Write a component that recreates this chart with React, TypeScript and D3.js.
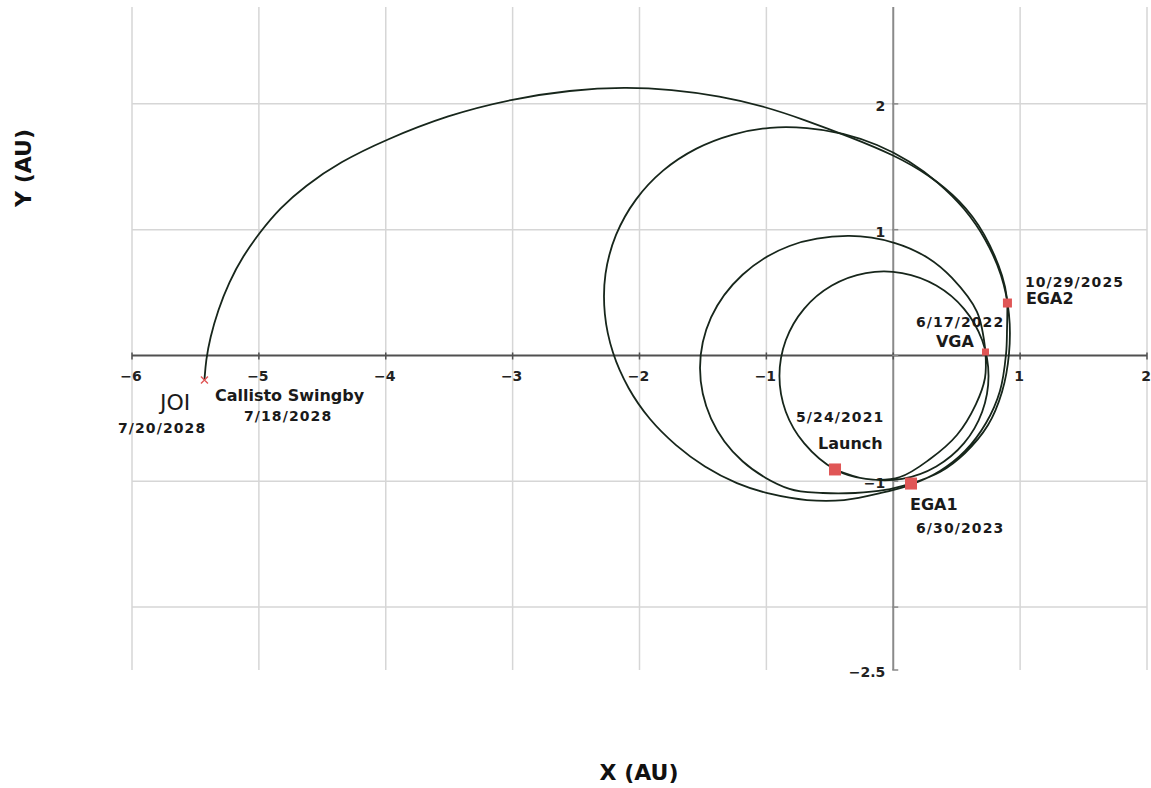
import React, { useRef, useEffect } from "react";
import * as d3 from "d3";

type Pt = [number, number];

// spacecraft path in AU, one array per leg between flybys
const launchToVga: Pt[] = [
  [-0.459, -0.906], [-0.216, -0.981], [0.07, -0.981], [0.339, -0.882], [0.558, -0.697],
  [0.701, -0.447], [0.751, -0.163], [0.701, 0.121], [0.558, 0.371], [0.339, 0.556],
  [0.07, 0.655], [-0.216, 0.655], [-0.484, 0.556], [-0.703, 0.371], [-0.847, 0.121],
  [-0.897, -0.163], [-0.847, -0.447], [-0.703, -0.697], [-0.459, -0.906], [-0.216, -0.981],
  [0.053, -0.966], [0.29, -0.823], [0.502, -0.632], [0.652, -0.386], [0.723, -0.179],
  [0.727, 0.028],
];

const vgaToEga1: Pt[] = [
  [0.727, 0.028], [0.66, 0.346], [0.463, 0.616], [0.274, 0.775], [0.014, 0.894],
  [-0.357, 0.95], [-0.818, 0.87], [-1.188, 0.642], [-1.436, 0.302], [-1.523, -0.1],
  [-1.436, -0.501], [-1.188, -0.841], [-0.818, -1.061], [-0.554, -1.093], [-0.301, -1.093],
  [-0.065, -1.069], [0.14, -1.018],
];

const ega1ToEga2: Pt[] = [
  [0.14, -1.018], [0.368, -0.926], [0.566, -0.775], [0.747, -0.553], [0.857, -0.29],
  [0.912, 0.012], [0.912, 0.33], [0.849, 0.637], [0.726, 0.918], [0.558, 1.164],
  [0.353, 1.371], [0.124, 1.542], [-0.128, 1.673], [-0.396, 1.762], [-0.68, 1.808],
  [-0.971, 1.81], [-1.263, 1.756], [-1.551, 1.644], [-1.812, 1.471], [-2.028, 1.239],
  [-2.185, 0.958], [-2.268, 0.648], [-2.273, 0.33], [-2.209, 0.023], [-2.086, -0.258],
  [-1.917, -0.505], [-1.712, -0.712], [-1.484, -0.882], [-1.232, -1.014], [-0.964, -1.101],
  [-0.68, -1.149], [-0.388, -1.149], [-0.097, -1.093], [0.14, -1.026], [0.368, -0.918],
  [0.566, -0.759], [0.731, -0.537], [0.841, -0.282], [0.889, 0.012], [0.897, 0.218],
  [0.9, 0.417],
];

const ega2ToJoi: Pt[] = [
  [0.9, 0.417], [0.881, 0.6], [0.723, 0.982], [0.526, 1.236], [0.282, 1.435],
  [0.006, 1.594], [-0.341, 1.737], [-0.696, 1.872], [-1.011, 1.979], [-1.366, 2.063],
  [-1.752, 2.114], [-2.106, 2.134], [-2.548, 2.11], [-3.005, 2.039], [-3.509, 1.912],
  [-4.006, 1.713], [-4.361, 1.538], [-4.637, 1.347], [-4.834, 1.172], [-4.991, 0.982],
  [-5.125, 0.791], [-5.235, 0.584], [-5.322, 0.362], [-5.385, 0.139], [-5.417, -0.036],
  [-5.429, -0.195],
];

const eventNames = ["Launch", "VGA", "EGA1", "EGA2", "Callisto Swingby", "JOI"];
const eventDates = ["5/24/2021", "6/17/2022", "6/30/2023", "10/29/2025", "7/18/2028", "7/20/2028"];
const eventX = [-0.459, 0.727, 0.14, 0.9, -5.429, -5.429];
const eventY = [-0.906, 0.028, -1.018, 0.417, -0.195, -0.195];

const xTicks = [-6, -5, -4, -3, -2, -1, 0, 1, 2];
const xTickLabels = [-6, -5, -4, -3, -2, -1, 1, 2];
const yTicks = [2, 1, 0, -1, -2, -2.5];
const yTickLabels = [2, 1, -1, -2.5];

export default function App() {
  const ref = useRef<SVGSVGElement>(null);

  useEffect(() => {
    const svg = d3.select(ref.current);
    svg.selectAll("*").remove();

    const font = "'DejaVu Sans', Verdana, sans-serif";
    const x = d3.scaleLinear().domain([-6, 2]).range([132, 1147]);
    const y = d3.scaleLinear().domain([-2.5, 2.77]).range([670, 7]);
    const fmt = (d: number) => String(d).replace("-", "\u2212");

    // grid
    svg.append("g").selectAll("line")
      .data(xTicks.filter((d) => d !== 0))
      .join("line")
      .attr("x1", (d) => x(d)).attr("x2", (d) => x(d))
      .attr("y1", y(2.77)).attr("y2", y(-2.5))
      .style("stroke", "#d6d6d6").style("stroke-width", 1.5);
    svg.append("g").selectAll("line")
      .data(yTicks.filter((d) => d !== 0 && d !== -2.5))
      .join("line")
      .attr("x1", x(-6)).attr("x2", x(2))
      .attr("y1", (d) => y(d)).attr("y2", (d) => y(d))
      .style("stroke", "#d6d6d6").style("stroke-width", 1.5);

    // axes
    svg.append("line")
      .attr("x1", x(0)).attr("x2", x(0)).attr("y1", y(2.77)).attr("y2", y(-2.5))
      .style("stroke", "#8a8a8a").style("stroke-width", 2);
    svg.append("line")
      .attr("x1", x(-6)).attr("x2", x(2)).attr("y1", y(0)).attr("y2", y(0))
      .style("stroke", "#505050").style("stroke-width", 1.8);
    svg.append("g").selectAll("line")
      .data(xTicks)
      .join("line")
      .attr("x1", (d) => x(d)).attr("x2", (d) => x(d))
      .attr("y1", y(0) - 3).attr("y2", y(0) + 4)
      .style("stroke", "#505050").style("stroke-width", 1.5);
    svg.append("g").selectAll("line")
      .data(yTicks)
      .join("line")
      .attr("x1", x(0) - 1).attr("x2", x(0) + 5)
      .attr("y1", (d) => y(d)).attr("y2", (d) => y(d))
      .style("stroke", "#8a8a8a").style("stroke-width", 1.5);

    svg.append("g").selectAll("text")
      .data(xTickLabels)
      .join("text")
      .attr("x", (d) => x(d) - 1)
      .attr("y", y(0) + 26)
      .attr("text-anchor", "middle")
      .style("font", `bold 14px ${font}`)
      .style("fill", "#222")
      .text(fmt);
    svg.append("g").selectAll("text")
      .data(yTickLabels)
      .join("text")
      .attr("x", x(0) - 8)
      .attr("y", (d) => y(d) + 7)
      .attr("text-anchor", "end")
      .style("font", `bold 14px ${font}`)
      .style("fill", "#222")
      .text(fmt);

    // trajectory
    const smooth = d3.line<Pt>()
      .x((d) => x(d[0]))
      .y((d) => y(d[1]))
      .curve(d3.curveCatmullRom.alpha(0.5));
    const loose = d3.line<Pt>()
      .x((d) => x(d[0]))
      .y((d) => y(d[1]))
      .curve(d3.curveBasis);
    [launchToVga, vgaToEga1, ega1ToEga2, ega2ToJoi].forEach((leg, i) => {
      svg.append("path")
        .datum(leg)
        .attr("d", i === 3 ? loose : smooth)
        .style("fill", "none")
        .style("stroke", "#17261b")
        .style("stroke-width", 1.8);
    });

    // flyby markers, square size in px
    const markerSize: Record<string, number> = { Launch: 12, VGA: 7, EGA1: 12, EGA2: 9 };
    const red = "#e05656";
    eventNames.forEach((name, i) => {
      const cx = x(eventX[i]);
      const cy = y(eventY[i]);
      if (markerSize[name]) {
        const s = markerSize[name];
        svg.append("rect")
          .attr("x", cx - s / 2).attr("y", cy - s / 2)
          .attr("width", s).attr("height", s)
          .style("fill", red);
      } else if (name === "JOI") {
        svg.append("path")
          .attr("d", `M${cx - 3.5},${cy - 3.5}L${cx + 3.5},${cy + 3.5}M${cx - 3.5},${cy + 3.5}L${cx + 3.5},${cy - 3.5}`)
          .style("stroke", red)
          .style("stroke-width", 1.4);
      }
    });

    // label offsets from the marker: [name dx, name dy, date dx, date dy]
    const labelPos: Record<string, number[]> = {
      Launch: [-17, -20.5, -39, -47.5],
      VGA: [-49.5, -5, -69.5, -25],
      EGA1: [-1, 26.5, 5, 49.5],
      EGA2: [18.5, 1, 17.5, -16],
      "Callisto Swingby": [10.5, 21, 39.5, 41],
      JOI: [-44.5, 30, -86.5, 53],
    };
    eventNames.forEach((name, i) => {
      const cx = x(eventX[i]);
      const cy = y(eventY[i]);
      const p = labelPos[name];
      svg.append("text")
        .attr("x", cx + p[0]).attr("y", cy + p[1])
        .style("font", name === "JOI" ? `normal 22px ${font}` : `bold 16px ${font}`)
        .style("fill", "#1a1a1a")
        .text(name);
      svg.append("text")
        .attr("x", cx + p[2]).attr("y", cy + p[3])
        .style("font", `bold 14px ${font}`)
        .style("letter-spacing", "1.1px")
        .style("fill", "#1a1a1a")
        .text(eventDates[i]);
    });

    // axis titles
    svg.append("text")
      .attr("x", 639).attr("y", 780)
      .attr("text-anchor", "middle")
      .style("font", `bold 22px ${font}`)
      .style("fill", "#111")
      .text("X (AU)");
    svg.append("text")
      .attr("transform", "translate(31,168) rotate(-90)")
      .attr("text-anchor", "middle")
      .style("font", `bold 22px ${font}`)
      .style("fill", "#111")
      .text("Y (AU)");
  }, []);

  return (
    <svg
      ref={ref}
      width={1151}
      height={788}
      style={{ position: "absolute", left: 0, top: 0, background: "#fff" }}
    ></svg>
  );
}
